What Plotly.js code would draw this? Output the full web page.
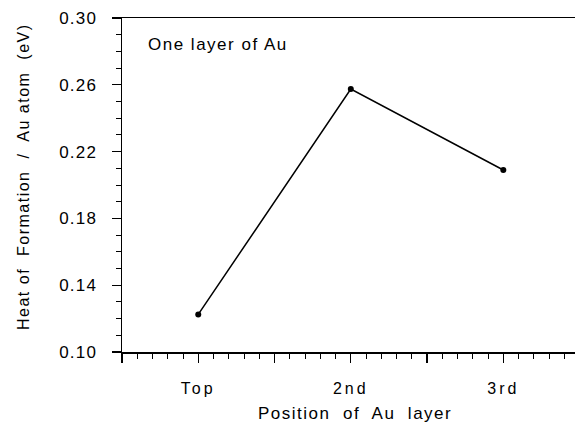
<!DOCTYPE html>
<html>
<head>
<meta charset="utf-8">
<script src="https://cdn.plot.ly/plotly-3.0.1.min.js"></script>
<style>
html,body{margin:0;padding:0;background:#fff;}
#chart{width:575px;height:428px;}
.xtick text{letter-spacing:3px;}
.ytick text{letter-spacing:1.2px;}
text.annotation-text{letter-spacing:1.5px;}
</style>
</head>
<body>
<div id="chart"></div>
<script>
const categories = ["Top", "2nd", "3rd"];
const heatOfFormation = [0.1225, 0.2575, 0.209];
const yTickVals = [0.10, 0.14, 0.18, 0.22, 0.26, 0.30];
const yTickText = ["0.10", "0.14", "0.18", "0.22", "0.26", "0.30"];
const annotationText = "One layer of Au";
const xTitle = "Position  of  Au  layer";
const yTitle = "Heat of  Formation  /  Au atom  (eV)";

const xPos = categories.map((c, i) => i + 1);
const xTickVals = [0.5, 1, 1.5, 2, 2.5, 3, 3.5];
const xTickText = xTickVals.map(v => Number.isInteger(v) ? categories[v - 1] : "");

const font = {family: "Liberation Sans, Arial, Helvetica, sans-serif", color: "#000"};
const F = s => Object.assign({size: s}, font);

const trace = {
  x: xPos,
  y: heatOfFormation,
  mode: "lines+markers",
  line: {color: "#000", width: 1.5},
  marker: {color: "#000", size: 6},
  hoverinfo: "skip"
};

const layout = {
  width: 575, height: 428,
  margin: {l: 122, r: 0, t: 18, b: 76},
  paper_bgcolor: "#fff", plot_bgcolor: "#fff",
  showlegend: false,
  font: F(16),
  xaxis: {
    range: [0.5, 3.47],
    tickmode: "array", tickvals: xTickVals, ticktext: xTickText,
    ticks: "outside", ticklen: 9, tickwidth: 1.2, tickcolor: "#000",
    minor: {dtick: 0.1, tick0: 0.5, ticks: "outside", ticklen: 5, tickwidth: 1, tickcolor: "#000"},
    showline: true, linecolor: "#000", linewidth: 1.5, mirror: true,
    showgrid: false, zeroline: false,
    tickfont: F(16),
    ticklabelstandoff: 12
  },
  yaxis: {
    range: [0.10, 0.30],
    tickmode: "array", tickvals: yTickVals, ticktext: yTickText,
    ticks: "outside", ticklen: 9, tickwidth: 1.2, tickcolor: "#000",
    minor: {dtick: 0.01, tick0: 0.10, ticks: "outside", ticklen: 5, tickwidth: 1, tickcolor: "#000"},
    showline: true, linecolor: "#000", linewidth: 1.5,
    showgrid: false, zeroline: false,
    tickfont: F(17),
    ticklabelstandoff: 11
  },
  annotations: [
    {
      text: annotationText, xref: "paper", yref: "paper",
      x: (146 - 122) / 453, y: 1 - (44 - 18) / 334,
      xanchor: "left", yanchor: "middle", showarrow: false,
      font: F(17)
    },
    {
      text: xTitle, xref: "paper", yref: "paper",
      x: (355 - 122) / 453, y: 1 - (413 - 18) / 334,
      xanchor: "center", yanchor: "middle", showarrow: false,
      font: F(17)
    },
    {
      text: yTitle, xref: "paper", yref: "paper", textangle: -90,
      x: (23 - 122) / 453, y: 1 - (177 - 18) / 334,
      xanchor: "center", yanchor: "middle", showarrow: false,
      font: F(16)
    }
  ]
};

Plotly.newPlot("chart", [trace], layout, {staticPlot: true, displayModeBar: false});
</script>
</body>
</html>
